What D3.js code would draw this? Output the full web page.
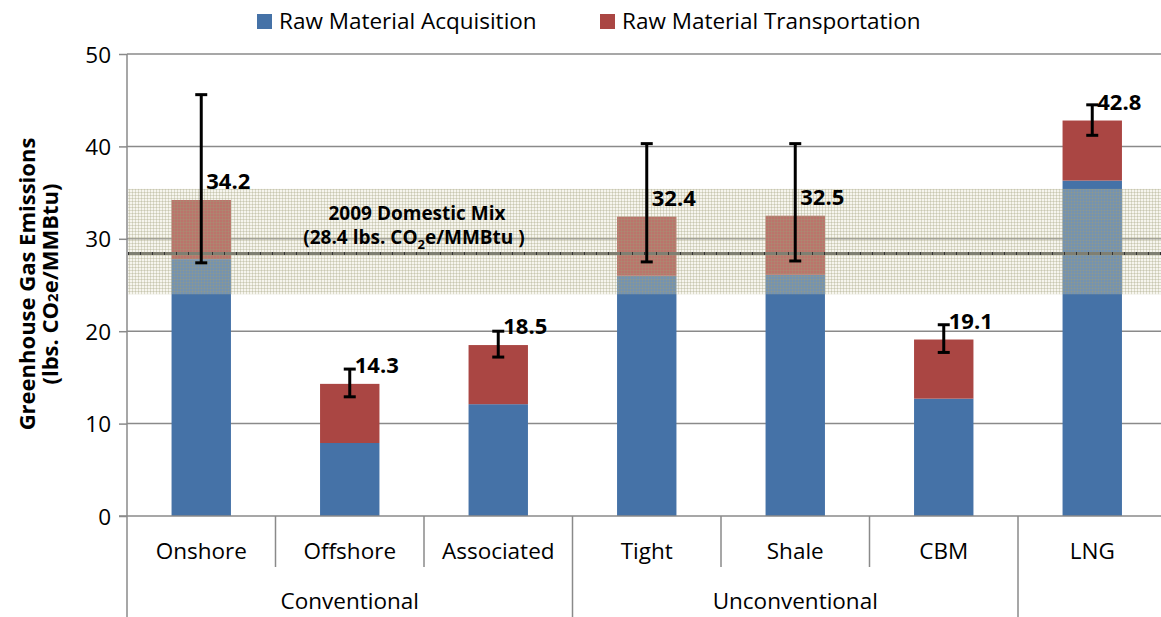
<!DOCTYPE html>
<meta charset="utf-8">
<script src="https://d3js.org/d3.v7.min.js"></script>
<style>
  body { margin: 0; background: #fff; }
  text { font-family: "Open Sans", "Lato", sans-serif; fill: #000; }
</style>
<div id="chart"></div>
<script>

// data
var categories = ["Onshore", "Offshore", "Associated", "Tight", "Shale", "CBM", "LNG"];
var groupNames = ["Conventional", "Unconventional", ""];
var groupSizes = [3, 3, 1];
var acquisition = [27.8, 7.9, 12.1, 26.0, 26.1, 12.7, 36.3];
var transport = [6.4, 6.4, 6.4, 6.4, 6.4, 6.4, 6.5];
var totals = [34.2, 14.3, 18.5, 32.4, 32.5, 19.1, 42.8];
var errLow = [27.4, 12.9, 17.2, 27.5, 27.6, 17.7, 41.2];
var errHigh = [45.6, 15.9, 20.0, 40.3, 40.3, 20.7, 44.5];
var yTicks = [0, 10, 20, 30, 40, 50];
var mixValue = 28.4;
var mixBand = [24.0, 35.4];
var seriesNames = ["Raw Material Acquisition", "Raw Material Transportation"];
var colors = ["#4572A7", "#AA4643"];

var W = 1161, H = 617;
var svg = d3.select("#chart").append("svg")
  .attr("width", W).attr("height", H);

var x = d3.scaleBand()
  .domain(categories)
  .range([127, 1166.5])
  .paddingInner(0.6)
  .paddingOuter(0.3);
var step = x.step();

var y = d3.scaleLinear().domain([0, 50]).range([516, 54]);

// pattern for the domestic mix band
var defs = svg.append("defs");
var pat = defs.append("pattern")
  .attr("id", "grid").attr("patternUnits", "userSpaceOnUse")
  .attr("width", 3).attr("height", 3);
pat.append("rect").attr("width", 3).attr("height", 3).attr("fill", "rgba(225,222,200,0.3)");
pat.append("rect").attr("width", 3).attr("height", 1).attr("fill", "rgba(160,155,120,0.3)");
pat.append("rect").attr("width", 1).attr("height", 3).attr("fill", "rgba(160,155,120,0.3)");

// gridlines
svg.append("g").selectAll("line")
  .data(yTicks.filter(function(d) { return d > 0; }))
  .enter().append("line")
    .attr("x1", 127).attr("x2", W)
    .attr("y1", function(d) { return y(d); })
    .attr("y2", function(d) { return y(d); })
    .attr("stroke", "#8a8a8a").attr("stroke-width", 1.5);

// stacked bars
var stack = categories.map(function(c, i) {
  return [[0, acquisition[i]], [acquisition[i], acquisition[i] + transport[i]]];
});
var barG = svg.append("g");
categories.forEach(function(c, i) {
  stack[i].forEach(function(s, k) {
    barG.append("rect")
      .attr("x", x(c))
      .attr("width", x.bandwidth())
      .attr("y", y(s[1]))
      .attr("height", y(s[0]) - y(s[1]))
      .attr("fill", colors[k]);
  });
});

// domestic mix band over the bars
svg.append("rect")
  .attr("x", 128).attr("width", W - 128)
  .attr("y", y(mixBand[1]))
  .attr("height", y(mixBand[0]) - y(mixBand[1]))
  .attr("fill", "url(#grid)");

svg.append("line")
  .attr("x1", 128).attr("x2", W)
  .attr("y1", y(mixValue)).attr("y2", y(mixValue))
  .attr("stroke", "#7f7f72").attr("stroke-width", 3);
svg.append("line")
  .attr("x1", 128).attr("x2", W)
  .attr("y1", y(mixValue)).attr("y2", y(mixValue))
  .attr("stroke", "#333").attr("stroke-width", 3)
  .attr("stroke-dasharray", "1,11");

// mix label
var mixLabel = svg.append("g").style("font-weight", "bold").style("font-size", "19px");
mixLabel.append("text").attr("x", 417).attr("y", 220)
  .attr("text-anchor", "middle").text("2009 Domestic Mix");
var l2 = mixLabel.append("text").attr("x", 414).attr("y", 244).attr("text-anchor", "middle");
l2.append("tspan").text("(28.4 lbs. CO");
l2.append("tspan").attr("dy", 5).style("font-size", "13px").text("2");
l2.append("tspan").attr("dy", -5).text("e/MMBtu )");

// error bars
var errG = svg.append("g").attr("stroke", "#000").attr("stroke-width", 3);
categories.forEach(function(c, i) {
  var cx = x(c) + x.bandwidth() / 2;
  errG.append("line").attr("x1", cx).attr("x2", cx)
    .attr("y1", y(errLow[i])).attr("y2", y(errHigh[i]));
  [errLow[i], errHigh[i]].forEach(function(v) {
    errG.append("line").attr("x1", cx - 6).attr("x2", cx + 6)
      .attr("y1", y(v)).attr("y2", y(v));
  });
});

// value labels
svg.append("g").selectAll("text")
  .data(totals)
  .enter().append("text")
    .attr("x", function(d, i) { return x(categories[i]) + x.bandwidth() / 2 + 5; })
    .attr("y", function(d) { return y(d) - 11; })
    .style("font-weight", "bold").style("font-size", "22px")
    .text(function(d) { return d.toFixed(1); });

// y axis
var yAxis = svg.append("g").attr("transform", "translate(127,0)")
  .call(d3.axisLeft(y).tickValues(yTicks).tickSize(8).tickPadding(8));
yAxis.select(".domain").remove();
yAxis.selectAll("line").attr("stroke", "#8a8a8a").attr("stroke-width", 1.5);
yAxis.selectAll("text").style("font-size", "22.5px").attr("font-family", null).attr("dy", "0.36em");
svg.append("line").attr("x1", 127).attr("x2", 127).attr("y1", 54).attr("y2", H)
  .attr("stroke", "#8a8a8a").attr("stroke-width", 1.5);

// x axis line and category separators
svg.append("line").attr("x1", 119).attr("x2", W).attr("y1", 516).attr("y2", 516)
  .attr("stroke", "#8a8a8a").attr("stroke-width", 1.5);
var groupEnds = d3.cumsum(groupSizes);
d3.range(1, categories.length + 1).forEach(function(k) {
  var xx = x.range()[0] + k * step;
  var isGroup = groupEnds.indexOf(k) >= 0;
  svg.append("line").attr("x1", xx).attr("x2", xx)
    .attr("y1", 516).attr("y2", isGroup ? H : 567)
    .attr("stroke", "#8a8a8a").attr("stroke-width", 1.5);
});

svg.append("g").selectAll("text")
  .data(categories)
  .enter().append("text")
    .attr("x", function(d) { return x(d) + x.bandwidth() / 2; })
    .attr("y", 559)
    .attr("text-anchor", "middle").style("font-size", "22.5px")
    .text(function(d) { return d; });

var start = 0;
groupNames.forEach(function(g, i) {
  var mid = x.range()[0] + (start + groupSizes[i] / 2) * step;
  svg.append("text").attr("x", mid).attr("y", 609)
    .attr("text-anchor", "middle").style("font-size", "22.5px").text(g);
  start += groupSizes[i];
});

// y axis title
var yt = svg.append("g").attr("transform", "translate(0,284) rotate(-90)")
  .style("font-weight", "bold").style("font-size", "22px");
yt.append("text").attr("x", 0).attr("y", 35).attr("text-anchor", "middle")
  .text("Greenhouse Gas Emissions");
var yt2 = yt.append("text").attr("x", 0).attr("y", 58).attr("text-anchor", "middle");
yt2.append("tspan").text("(lbs. CO");
yt2.append("tspan").style("font-size", "15px").text("2");
yt2.append("tspan").text("e/MMBtu)");

// legend
var legX = [257, 600];
seriesNames.forEach(function(s, i) {
  svg.append("rect").attr("x", legX[i]).attr("y", 14).attr("width", 15).attr("height", 15)
    .attr("fill", colors[i]);
  svg.append("text").attr("x", legX[i] + 22).attr("y", 29)
    .style("font-size", "22.5px").text(s);
});

</script>
